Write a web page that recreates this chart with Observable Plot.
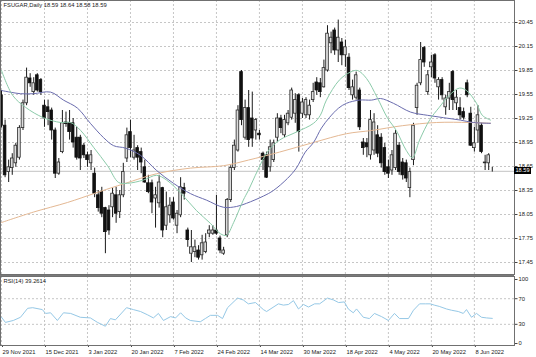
<!DOCTYPE html>
<html><head><meta charset="utf-8">
<script src="https://cdn.jsdelivr.net/npm/d3@7"></script>
<script src="https://cdn.jsdelivr.net/npm/@observablehq/plot@0.6"></script>
<style>
body{margin:0;background:#fff;}
#chart{position:relative;width:536px;height:357px;overflow:hidden;background:#fff;}
#chart svg{display:block;}
#sep{height:2px;background:#7a7a7a;width:514px;}
.lbl{position:absolute;background:#000;color:#fff;font:5.6px "Liberation Sans",Arial,sans-serif;padding:0 1.5px;line-height:7px;height:7px;}
</style></head><body><div id="chart"></div>
<script>
// ---- data ----
const title = "FSUGAR,Daily 18.59 18.64 18.58 18.59";
const rsiTitle = "RSI(14) 39.2614";
const open = [19.54,19.16,18.58,18.63,18.69,18.76,19.13,19.44,19.75,19.58,
19.79,19.73,19.41,19.39,19.35,19.10,18.56,18.83,19.20,19.19,
19.19,19.01,19.01,18.91,18.79,18.69,18.56,18.29,18.33,18.13,
18.10,18.14,18.29,18.08,18.29,18.75,19.08,18.76,18.88,18.83,
18.64,18.44,18.44,18.25,18.19,18.38,17.91,18.04,18.20,17.91,
18.04,18.38,17.85,17.56,17.58,17.60,17.54,17.58,17.81,17.81,
17.85,17.75,17.56,17.79,18.23,18.63,18.85,19.83,19.01,19.38,
19.25,19.10,19.06,18.81,18.79,18.64,18.73,19.01,19.25,19.04,
19.19,19.26,19.31,19.54,19.31,19.29,19.29,19.48,19.70,19.69,
19.64,19.85,20.19,20.35,20.10,20.20,20.04,20.01,19.54,19.51,
19.60,18.95,18.94,18.79,18.85,19.04,19.01,18.88,18.64,18.60,
18.63,18.91,18.70,18.69,18.38,18.73,19.38,19.69,20.13,19.58,
19.89,20.04,19.64,19.73,19.39,19.50,19.83,19.44,19.38,19.33,
19.69,19.31,18.88,19.10,19.16,18.69,18.69,18.59];
const high = [19.60,19.23,18.73,18.81,18.94,19.16,19.48,19.88,19.81,19.76,
19.81,19.75,19.48,19.48,19.38,19.13,18.75,19.35,19.33,19.35,
19.25,19.14,19.04,18.94,18.83,18.85,18.63,18.35,18.39,18.14,
18.16,18.38,18.39,18.35,18.69,19.13,19.23,19.04,18.91,18.88,
18.73,18.54,18.48,18.39,18.54,18.39,18.33,18.26,18.26,18.10,
18.51,18.44,17.88,17.85,17.73,17.66,17.79,17.81,17.91,17.91,
18.29,17.78,17.64,18.25,18.66,18.98,19.41,19.85,19.48,19.60,
19.58,19.25,19.10,18.83,18.83,18.98,18.98,19.31,19.29,19.29,
19.35,19.63,19.56,19.56,19.50,19.51,19.48,19.69,19.76,19.75,
19.98,20.41,20.33,20.38,20.48,20.25,20.23,20.06,19.73,19.83,
19.63,19.00,19.00,19.35,19.31,19.16,19.06,18.94,18.73,18.85,
19.10,18.95,18.75,18.73,18.63,19.19,19.69,20.20,20.15,19.85,
20.04,20.06,19.76,19.76,19.54,19.69,19.85,19.60,19.51,19.38,
19.73,19.39,19.14,19.41,19.19,18.79,18.81,18.64];
const low = [19.13,18.51,18.45,18.54,18.64,18.73,19.10,19.41,19.64,19.54,
19.58,19.54,19.14,19.16,18.98,18.50,18.54,18.81,19.14,18.98,
18.88,18.73,18.60,18.75,18.64,18.60,18.26,18.08,18.01,17.56,
17.79,18.01,17.94,18.00,18.26,18.70,18.76,18.73,18.60,18.56,
18.44,18.31,18.06,17.88,18.13,17.76,17.85,17.94,17.98,17.81,
18.01,18.23,17.64,17.45,17.51,17.48,17.48,17.56,17.76,17.79,
17.79,17.56,17.54,17.76,18.20,18.60,18.83,19.16,18.98,18.89,
18.89,18.98,18.98,18.60,18.50,18.58,18.70,18.95,19.06,19.01,
19.16,19.23,19.19,18.83,19.25,19.25,19.23,19.45,19.54,19.51,
19.63,19.83,20.06,20.04,19.95,19.91,19.89,19.60,19.48,19.48,
19.10,18.79,18.76,18.73,18.79,18.76,18.63,18.54,18.50,18.54,
18.60,18.54,18.48,18.45,18.26,18.66,19.29,19.66,19.89,19.54,
19.76,19.69,19.48,19.48,19.29,19.35,19.35,19.35,19.23,19.23,
19.51,18.90,18.83,18.94,18.81,18.60,18.60,18.58];
const close = [19.16,18.54,18.64,18.75,18.91,19.13,19.44,19.76,19.69,19.69,
19.60,19.58,19.25,19.33,19.10,18.56,18.70,19.19,19.18,19.08,
18.95,18.76,18.75,18.79,18.73,18.79,18.31,18.13,18.06,17.83,
17.85,18.31,18.06,18.29,18.58,19.04,18.88,18.85,18.76,18.70,
18.45,18.33,18.20,18.29,18.45,17.85,18.14,18.16,18.00,18.06,
18.39,18.31,17.73,17.64,17.64,17.51,17.69,17.70,17.85,17.85,
17.81,17.60,17.60,18.23,18.63,18.91,19.35,19.23,19.38,18.98,
19.00,19.23,19.04,18.73,18.51,18.89,18.94,19.25,19.13,19.23,
19.31,19.60,19.48,19.08,19.45,19.48,19.41,19.58,19.60,19.58,
19.88,20.31,20.26,20.10,20.26,20.04,20.14,19.63,19.64,19.79,
19.14,18.88,18.89,19.23,19.20,18.81,18.69,18.58,18.56,18.79,
19.06,18.58,18.54,18.50,18.58,19.16,19.66,19.98,19.95,19.79,
19.95,19.75,19.73,19.54,19.50,19.58,19.48,19.51,19.29,19.26,
19.54,18.91,18.94,19.29,18.83,18.70,18.79,18.59];

// moving averages, sampled along the drawn lines (bar index, price)
const fastMaIdx = [0,3.1,6.7,11.7,16.5,19.3,22.1,25.7,29.6,32.7,35.2,39.6,43.3,46.1,50.2,54.4,58.3,61.1,62.8,64.8,67.5,68.9,71.5,74.2,77.6,82.3,87.1,89,90.7,94.3,97.4,99.4,101.9,104.9,107.7,110.2,113,114.7,116.7,119.5,122.2,125,127.8,129.8,132.6,134.2,136.5];
const fastMaVal = [19.85,19.54,19.39,19.26,19.20,19.20,19.10,18.89,18.66,18.45,18.44,18.48,18.54,18.48,18.31,18.10,17.94,17.81,17.79,17.95,18.23,18.35,18.60,18.83,18.98,19.08,19.19,19.29,19.48,19.73,19.83,19.85,19.75,19.51,19.26,19.10,18.85,18.76,18.98,19.23,19.39,19.54,19.63,19.60,19.44,19.29,19.23];
const midMaIdx = [0,5.3,8.9,13.7,17.3,21.2,24.8,28.5,31.3,34.6,38.8,43.3,48,52.8,57.2,62,65.6,68.4,73.1,75.9,79.8,82.3,84.8,87.1,89.3,91.5,94.1,96.3,99.9,103.3,105.8,109.4,114.2,118.9,123.4,128.1,131.7,136.5];
const midMaVal = [19.60,19.56,19.56,19.58,19.48,19.38,19.19,19.01,18.91,18.88,18.79,18.60,18.44,18.31,18.23,18.14,18.15,18.19,18.28,18.35,18.50,18.63,18.83,18.95,19.13,19.26,19.38,19.44,19.48,19.48,19.50,19.44,19.33,19.29,19.26,19.23,19.20,19.19];
const slowMaIdx = [0,8.9,18.4,25.7,30.4,34.6,43.3,52.8,62,68.9,77.6,87.1,96.3,103.3,111.9,121.4,130.6,136.5];
const slowMaVal = [17.95,18.08,18.20,18.31,18.38,18.44,18.56,18.63,18.66,18.73,18.83,18.95,19.06,19.10,19.16,19.20,19.20,19.19];

// RSI(14) sampled along the drawn line (bar index, value)
const rsiIdx = [0,1.1,3.3,5.3,7.3,8.7,11.4,12.3,13.7,15.6,17.3,19.3,22,24.8,26.8,29,30.4,31.8,34.9,36.8,38.8,40.7,42.4,43.8,45.2,47.2,48.6,50,51.4,52.7,55.5,56.9,58.3,60.3,61.7,63.1,65.9,67.5,68.9,70.9,73.1,74,77.3,78.7,80.1,81.5,82.9,84.3,85.7,87.4,88.8,91,92.7,94.1,95.7,96.8,98.2,99.1,101,102.7,104.1,106.1,108,109.7,111.1,113.6,115,116.7,118.3,119.7,120.8,122.2,124.2,125.6,127.5,128.9,129.8,131.2,132.6,134,135.4,137];
const rsiVal = [41,33,36,41,55,56,53,47,48,36,48,47,41,40,33,27,39,37,56,53,50,45,40,47,36,42,40,48,40,36,34,39,44,44,39,56,71,68,62,64,53,50,62,60,61,67,54,61,57,62,62,71,68,64,65,54,48,54,41,39,47,42,36,47,39,39,52,62,62,62,60,58,54,52,50,47,53,41,47,41,40,39.26];

// axes
const dateTickIdx = [0,12,24,36,48,60,72,84,96,108,120,132];
const dateTickLabels = ["29 Nov 2021","15 Dec 2021","3 Jan 2022","20 Jan 2022","7 Feb 2022","24 Feb 2022","14 Mar 2022","30 Mar 2022","18 Apr 2022","4 May 2022","20 May 2022","8 Jun 2022"];
const priceTicks = [17.45,17.75,18.05,18.35,18.65,18.95,19.25,19.55,19.85,20.15,20.45];
const rsiTicks = [0,30,70,100];
const rsiLevels = [30,70];

// ---- drawing ----
const W = 536, MAIN_H = 274, RSI_H = 81, MR = 22;
const FONT = '"Liberation Sans", Arial, sans-serif';
const FS = 5.8;
const xDomain = [-0.28, 143.2];
const grid = {stroke:"#c6c6c6", strokeDasharray:"2,2", strokeWidth:1};

const bars = open.map((o,i)=>({i, o, h:high[i], l:low[i], c:close[i], up: close[i] >= o}));
const pts = (ix, vs) => ix.map((x,k)=>({x, y: vs[k]}));
const lastClose = close[close.length-1];

const main = Plot.plot({
  width: W, height: MAIN_H,
  marginLeft: 0, marginRight: MR, marginTop: 0, marginBottom: 0,
  x: {domain: xDomain, axis: null},
  y: {domain: [17.3, 20.725], axis: null},
  style: {fontFamily: FONT, background: "#fff", overflow: "visible"},
  marks: [
    Plot.ruleY(priceTicks, grid),
    Plot.ruleX(dateTickIdx, grid),
    Plot.ruleY([lastClose], {stroke:"#c2c2c2", strokeWidth:1}),
    Plot.ruleX(bars, {x:"i", y1:"l", y2:"h", stroke:"#1a1a1a", strokeWidth:1}),
    Plot.rect(bars, {x1: d=>d.i-0.37, x2: d=>d.i+0.37, y1:"o", y2:"c",
      fill: d=>d.up ? "#dcdcdc" : "#111", stroke: d=>d.up ? "#2a2a2a" : "#111", strokeWidth:0.8}),
    Plot.line(pts(slowMaIdx, slowMaVal), {x:"x", y:"y", curve:"catmull-rom", stroke:"#e4b893", strokeWidth:1}),
    Plot.line(pts(midMaIdx, midMaVal), {x:"x", y:"y", curve:"catmull-rom", stroke:"#6a6cae", strokeWidth:1}),
    Plot.line(pts(fastMaIdx, fastMaVal), {x:"x", y:"y", curve:"catmull-rom", stroke:"#8ccbaa", strokeWidth:1}),
    Plot.axisY(priceTicks, {anchor:"right", label:null, tickSize:2.5, tickPadding:1.5, tickFormat: d=>d.toFixed(2),
      fontSize: FS, fill:"#222", stroke:"#444"}),
    Plot.frame({stroke:"#707070"}),
    Plot.text([title], {frameAnchor:"top-left", dx:3, dy:2.5, lineAnchor:"top", textAnchor:"start",
      fontSize: FS, fill:"#1a1a1a"})
  ]
});

const rsiPlot = Plot.plot({
  width: W, height: RSI_H,
  marginLeft: 0, marginRight: MR, marginTop: 0, marginBottom: 12,
  x: {domain: xDomain, axis: null},
  y: {domain: [-3.1, 104.7], axis: null},
  style: {fontFamily: FONT, background: "#fff", overflow: "visible"},
  marks: [
    Plot.ruleY(rsiLevels, grid),
    Plot.ruleX(dateTickIdx, grid),
    Plot.line(pts(rsiIdx, rsiVal), {x:"x", y:"y", stroke:"#95c8e6", strokeWidth:1}),
    Plot.axisY(rsiTicks, {anchor:"right", label:null, tickSize:2.5, tickPadding:1.5, fontSize: FS, fill:"#222", stroke:"#444"}),
    Plot.axisX(dateTickIdx, {anchor:"bottom", label:null, tickSize:2, tickPadding:2, textAnchor:"start", dx:1,
      tickFormat: d => dateTickLabels[dateTickIdx.indexOf(d)], fontSize: FS, fill:"#222", stroke:"#444"}),
    Plot.frame({stroke:"#707070"}),
    Plot.text([rsiTitle], {frameAnchor:"top-left", dx:3, dy:2, lineAnchor:"top", textAnchor:"start",
      fontSize: FS, fill:"#1a1a1a"})
  ]
});

const chart = document.getElementById("chart");
chart.append(main);
const sep = document.createElement("div"); sep.id = "sep"; chart.append(sep);
chart.append(rsiPlot);

const yPix = main.scale("y").apply(lastClose);
const box = document.createElement("div");
box.className = "lbl";
box.textContent = lastClose.toFixed(2);
box.style.left = (W - MR) + "px";
box.style.top = (yPix - 3.5) + "px";
chart.append(box);
</script>
</body></html>
